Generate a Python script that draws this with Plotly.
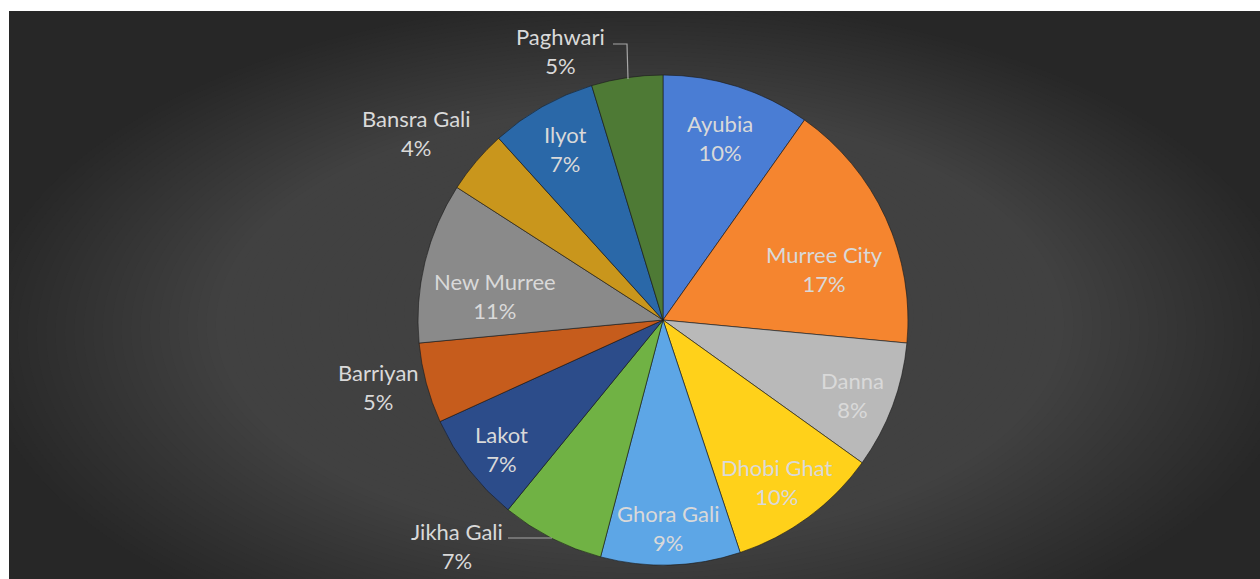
import numpy as np
import plotly.graph_objects as go

W, H = 1260, 579

# ---- data ----
labels = ["Ayubia", "Murree City", "Danna", "Dhobi Ghat", "Ghora Gali", "Jikha Gali",
          "Lakot", "Barriyan", "New Murree", "Bansra Gali", "Ilyot", "Paghwari"]
values = [9.8, 16.7, 8.4, 10.0, 9.2, 6.8, 7.3, 5.3, 10.6, 4.2, 7.0, 4.7]
colors = ["#4a7dd4", "#f5852f", "#b9b9b9", "#ffd11a", "#5da6e6", "#70b244",
          "#2c4c8a", "#c65c1c", "#8a8a8a", "#c9961c", "#2a68a8", "#4e7a35"]

# label placement (pixel centres of each two-line data label)
label_px = [(720, 138), (824, 269), (852, 395), (777, 482), (668, 528), (457, 546),
            (502, 449), (378, 387), (495, 296), (416, 133), (565, 149), (560, 51)]

vals = np.array(values, dtype=float)
pcts = np.round(vals / vals.sum() * 100).astype(int)

# pie geometry (pixels)
cx, cy, R = 663, 320, 245

def px(x):
    return x / W

def py(y):
    return 1 - y / H

fig = go.Figure()
fig.add_trace(go.Pie(
    labels=labels, values=values, sort=False, direction="clockwise", rotation=0,
    marker=dict(colors=colors, line=dict(color="rgba(25,25,25,0.6)", width=1)),
    textinfo="none", hoverinfo="label+percent", showlegend=False,
    domain=dict(x=[px(cx - R), px(cx + R)], y=[py(cy + R), py(cy - R)]),
))

shapes = []
# dark background area
shapes.append(dict(type="rect", xref="paper", yref="paper", x0=px(9), x1=1.0, y0=0.0, y1=py(11),
                   fillcolor="#272727", line=dict(width=0), layer="below"))
# radial gradient approximation
gx, gy = 640, 300
n = 70
for i in range(n):
    f = 1 - i / n
    rx = 660 * f
    ry = 300 * f
    shapes.append(dict(type="circle", xref="paper", yref="paper",
                       x0=px(gx - rx), x1=px(gx + rx), y0=py(gy + ry * 1.25), y1=py(gy - ry),
                       fillcolor="rgb(90,90,90)", opacity=0.03, line=dict(width=0), layer="below"))
# leader lines
shapes.append(dict(type="path", xref="paper", yref="paper",
                   path=f"M {px(613)},{py(44)} L {px(627)},{py(44)} L {px(628)},{py(79)}",
                   line=dict(color="#a6a6a6", width=1.2), layer="above"))
shapes.append(dict(type="path", xref="paper", yref="paper",
                   path=f"M {px(508)},{py(538)} L {px(552)},{py(538)}",
                   line=dict(color="#a6a6a6", width=1.2), layer="above"))
# white borders above gradient
shapes.append(dict(type="rect", xref="paper", yref="paper", x0=0, x1=px(9), y0=0, y1=1,
                   fillcolor="white", line=dict(width=0), layer="above"))
shapes.append(dict(type="rect", xref="paper", yref="paper", x0=0, x1=1, y0=py(11), y1=1,
                   fillcolor="white", line=dict(width=0), layer="above"))

annotations = []
for lab, p, (x, y) in zip(labels, pcts, label_px):
    annotations.append(dict(
        x=px(x), y=py(y), xref="paper", yref="paper", xanchor="center", yanchor="middle",
        text=f"{lab}<br>{p}%", showarrow=False, align="center",
        font=dict(family="Lato, Open Sans, sans-serif", size=22, color="#d9d9d9"),
    ))

fig.update_layout(
    width=W, height=H, margin=dict(l=0, r=0, t=0, b=0),
    paper_bgcolor="white", plot_bgcolor="white",
    shapes=shapes, annotations=annotations, showlegend=False,
)

fig.write_html("out.html")
